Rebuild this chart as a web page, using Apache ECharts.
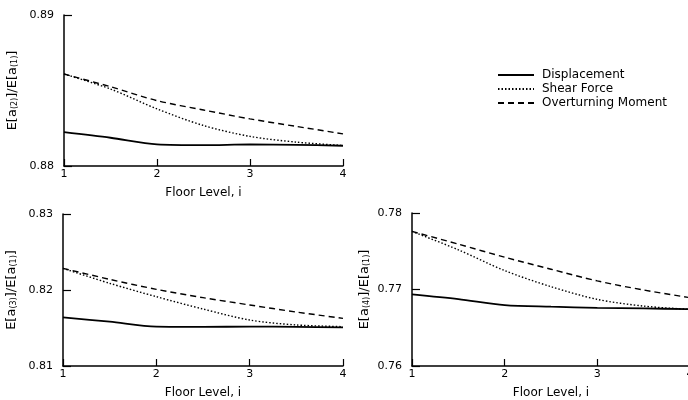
<!DOCTYPE html>
<html>
<head>
<meta charset="utf-8">
<script src="https://cdn.jsdelivr.net/npm/echarts@6/dist/echarts.min.js"></script>
<style>
  html, body { margin: 0; padding: 0; background: #fff; }
  #chart { width: 688px; height: 400px; }
</style>
</head>
<body>
<div id="chart"></div>
<script>
var floors = [1, 1.5, 2, 2.5, 3, 3.5, 4];
var xTicks = [1, 2, 3, 4];
var seriesNames = ['Displacement', 'Shear Force', 'Overturning Moment'];

// E[a(2)]/E[a(1)]
var disp2   = [0.88224, 0.88187, 0.88143, 0.88138, 0.88143, 0.88140, 0.88134];
var shear2  = [0.88609, 0.88510, 0.88378, 0.88268, 0.88196, 0.88158, 0.88136];
var moment2 = [0.88609, 0.88525, 0.88433, 0.88371, 0.88312, 0.88262, 0.88213];

// E[a(3)]/E[a(1)]
var disp3   = [0.81640, 0.81583, 0.81518, 0.81515, 0.81518, 0.81515, 0.81509];
var shear3  = [0.82285, 0.82088, 0.81912, 0.81750, 0.81605, 0.81540, 0.81518];
var moment3 = [0.82285, 0.82140, 0.82009, 0.81899, 0.81803, 0.81710, 0.81627];

// E[a(4)]/E[a(1)]
var disp4   = [0.76937, 0.76875, 0.76796, 0.76775, 0.76761, 0.76752, 0.76744];
var shear4  = [0.77759, 0.77519, 0.77247, 0.77037, 0.76871, 0.76783, 0.76740];
var moment4 = [0.77759, 0.77593, 0.77422, 0.77265, 0.77112, 0.76993, 0.76893];

// y ranges of the three panels
var yRanges = [[0.88, 0.89], [0.81, 0.83], [0.76, 0.78]];

var FONT = 'DejaVu Sans';

function pairs(ys) {
  return floors.map(function (x, i) { return [x, ys[i]]; });
}

function yName(k) {
  return '{n|E[a}{s|(' + k + ')}{n|]/E[a}{s|(1)}{n|]}';
}

var grids = [
  { left: 64, top: 15, width: 279, height: 151, outerBoundsMode: 'none' },
  { left: 63, top: 214, width: 280, height: 152, outerBoundsMode: 'none' },
  { left: 412, top: 213, width: 278, height: 153, outerBoundsMode: 'none' }
];

var xAxes = grids.map(function (g, i) {
  return {
    type: 'value', gridIndex: i, min: 1, max: 4, interval: 1,
    name: 'Floor Level, i', nameLocation: 'middle', nameGap: 21,
    nameTextStyle: { color: '#000', fontFamily: FONT, fontSize: 12 },
    axisLine: { lineStyle: { color: '#000', width: 1.5 } },
    axisTick: { inside: true, length: 7, lineStyle: { color: '#000', width: 1.2 } },
    axisLabel: { color: '#000', fontFamily: FONT, fontSize: 11, margin: 3,
      formatter: function (v) { return xTicks.indexOf(v) >= 0 ? String(v) : ''; } },
    splitLine: { show: false }
  };
});

var yAxes = grids.map(function (g, i) {
  return {
    type: 'value', gridIndex: i, min: yRanges[i][0], max: yRanges[i][1], interval: 0.01,
    name: yName(i + 2), nameLocation: 'middle', nameGap: i === 2 ? 41 : 45,
    nameRotate: 90,
    nameTextStyle: {
      color: '#000', fontFamily: FONT,
      rich: {
        n: { fontSize: 13, fontFamily: FONT, color: '#000' },
        s: { fontSize: 8, fontFamily: FONT, color: '#000', verticalAlign: 'bottom' }
      }
    },
    axisLine: { show: true, lineStyle: { color: '#000', width: 1.5 } },
    axisTick: { show: true, inside: true, length: 8, lineStyle: { color: '#000', width: 1.2 } },
    axisLabel: { color: '#000', fontFamily: FONT, fontSize: 11, margin: 10,
      formatter: function (v) { return v.toFixed(2); } },
    splitLine: { show: false }
  };
});

var panelData = [[disp2, shear2, moment2], [disp3, shear3, moment3], [disp4, shear4, moment4]];
var styles = [
  { type: 'solid', width: 1.8 },
  { type: [1.5, 2], width: 1.4 },
  { type: [6, 4], width: 1.4 }
];

var series = [];
panelData.forEach(function (sets, p) {
  sets.forEach(function (ys, k) {
    series.push({
      name: seriesNames[k], type: 'line', xAxisIndex: p, yAxisIndex: p,
      data: pairs(ys), symbol: 'none', smooth: 0.3, silent: true,
      itemStyle: { color: '#000' },
      lineStyle: { color: '#000', type: styles[k].type, width: styles[k].width }
    });
  });
});

var chart = echarts.init(document.getElementById('chart'), null, { renderer: 'canvas' });
chart.setOption({
  backgroundColor: '#fff',
  animation: false,
  legend: {
    data: seriesNames, orient: 'vertical', left: 497, top: 68,
    itemWidth: 36, itemHeight: 8, itemGap: 0, padding: 0,
    itemStyle: { opacity: 0 },
    textStyle: { color: '#000', fontFamily: FONT, fontSize: 12, lineHeight: 14, padding: [0, 0, 0, 3] },
    selectedMode: false
  },
  grid: grids,
  xAxis: xAxes,
  yAxis: yAxes,
  series: series
});
</script>
</body>
</html>
